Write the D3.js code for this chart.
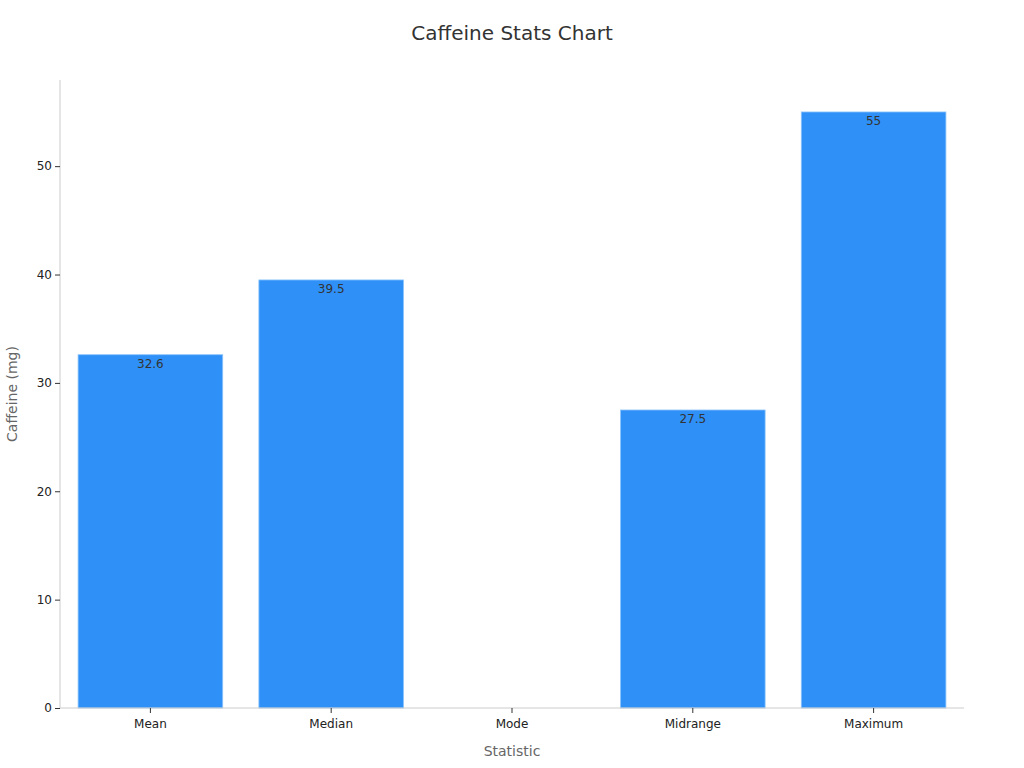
<!DOCTYPE html>
<html><head><meta charset="utf-8">
<script src="https://cdn.jsdelivr.net/npm/d3@7"></script>
<style>body{margin:0;background:#fff;font-family:"DejaVu Sans",sans-serif;}</style>
</head><body>
<svg id="c" width="1024" height="768"></svg>
<script>
const categories = ["Mean","Median","Mode","Midrange","Maximum"];
const values = [32.6, 39.5, 0, 27.5, 55];
const labels = ["32.6","39.5","","27.5","55"];
const yTicks = [0,10,20,30,40,50];

const svg = d3.select("#c");
const m = {l:60, r:60, t:80, b:60};
const W = 1024, H = 768;
const x = d3.scaleBand().domain(categories).range([m.l, W - m.r]).paddingInner(0.2).paddingOuter(0.1);
const y = d3.scaleLinear().domain([0, 57.95]).range([H - m.b, m.t]);

svg.append("text").attr("x", 512).attr("y", 40).attr("text-anchor","middle")
  .attr("font-size", 20).attr("fill","#333").text("Caffeine Stats Chart");

svg.selectAll("rect.bar").data(values).join("rect").attr("class","bar")
  .attr("x",(d,i)=>x(categories[i])).attr("width", x.bandwidth())
  .attr("y", d=>y(d)).attr("height", d=>y(0)-y(d))
  .attr("fill","#2f91f7").attr("stroke","#8cc4fb").attr("stroke-width",0.8);

svg.selectAll("text.lbl").data(values).join("text").attr("class","lbl")
  .attr("x",(d,i)=>x(categories[i])+x.bandwidth()/2).attr("y", d=>y(d)+13.5)
  .attr("text-anchor","middle").attr("font-size",12).attr("fill","#333")
  .text((d,i)=>labels[i]);

const ya = svg.append("g").attr("transform",`translate(${m.l},0)`)
  .call(d3.axisLeft(y).tickValues(yTicks).tickSize(5).tickPadding(3));
ya.select(".domain").attr("stroke","#ccc").attr("d",`M0,${m.t}V${H-m.b}`);
ya.selectAll(".tick line").attr("stroke","#333");
ya.selectAll(".tick text").attr("font-size",12).attr("fill","#222").attr("font-family","DejaVu Sans");

const xa = svg.append("g").attr("transform",`translate(0,${H-m.b})`)
  .call(d3.axisBottom(x).tickSize(5).tickPadding(6));
xa.select(".domain").attr("stroke","#ccc").attr("d",`M${m.l},0H${W-m.r}`);
xa.selectAll(".tick line").attr("stroke","#333");
xa.selectAll(".tick text").attr("font-size",12).attr("fill","#222").attr("font-family","DejaVu Sans");

svg.append("text").attr("x", 512).attr("y", 756).attr("text-anchor","middle")
  .attr("font-size",14).attr("fill","#666").text("Statistic");
svg.append("text").attr("transform","translate(17,394) rotate(-90)").attr("text-anchor","middle")
  .attr("font-size",14).attr("fill","#666").text("Caffeine (mg)");
</script>
</body></html>
